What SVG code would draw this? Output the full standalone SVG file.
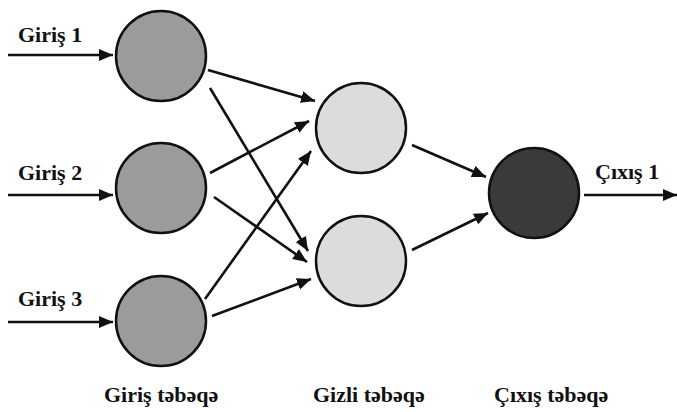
<svg xmlns="http://www.w3.org/2000/svg" width="677" height="412" viewBox="0 0 677 412">
<defs>
<marker id="ah" markerUnits="userSpaceOnUse" markerWidth="15" markerHeight="13" refX="14" refY="6" orient="auto">
<path d="M0,0 L14,6 L0,12 z" fill="#111"/>
</marker>
<style>
.in{fill:#9b9b9b;stroke:#111;stroke-width:2.5}
.hid{fill:#dcdcdc;stroke:#111;stroke-width:2.5}
.out{fill:#3a3a3a;stroke:#111;stroke-width:2.5}
.c{stroke:#111;stroke-width:2.6;fill:none;marker-end:url(#ah)}
.t{font-family:"Liberation Serif","DejaVu Serif",serif;font-weight:bold;font-size:22px;fill:#111}
</style>
</defs>
<rect width="677" height="412" fill="#fff"/>
<g id="connectors">
<line class="c" x1="8" y1="55" x2="113" y2="55"/>
<line class="c" x1="8" y1="195" x2="113" y2="195"/>
<line class="c" x1="8" y1="322" x2="113" y2="322"/>
<line class="c" x1="208" y1="70" x2="315" y2="101"/>
<line class="c" x1="210" y1="88" x2="308" y2="251"/>
<line class="c" x1="210" y1="173" x2="309" y2="121"/>
<line class="c" x1="214" y1="197" x2="307" y2="262"/>
<line class="c" x1="205" y1="299" x2="311" y2="151"/>
<line class="c" x1="212" y1="316" x2="311" y2="279"/>
<line class="c" x1="412" y1="145" x2="486" y2="177"/>
<line class="c" x1="412" y1="250" x2="488" y2="213"/>
<line class="c" x1="584" y1="195" x2="677" y2="195"/>
</g>
<g id="in1"><circle class="in" cx="161" cy="56" r="45"/><text class="t" x="18" y="42">Giriş 1</text></g>
<g id="in2"><circle class="in" cx="161" cy="188" r="45"/><text class="t" x="18" y="180">Giriş 2</text></g>
<g id="in3"><circle class="in" cx="161" cy="321" r="45"/><text class="t" x="18" y="306">Giriş 3</text></g>
<g id="h1"><circle class="hid" cx="361" cy="128" r="45"/></g>
<g id="h2"><circle class="hid" cx="361" cy="261" r="45"/></g>
<g id="out1"><circle class="out" cx="534" cy="193" r="45"/><text class="t" x="595" y="179">Çıxış 1</text></g>
<g id="labels">
<text class="t" x="104" y="402">Giriş təbəqə</text>
<text class="t" x="313" y="402">Gizli təbəqə</text>
<text class="t" x="494" y="402">Çıxış təbəqə</text>
</g>
</svg>
